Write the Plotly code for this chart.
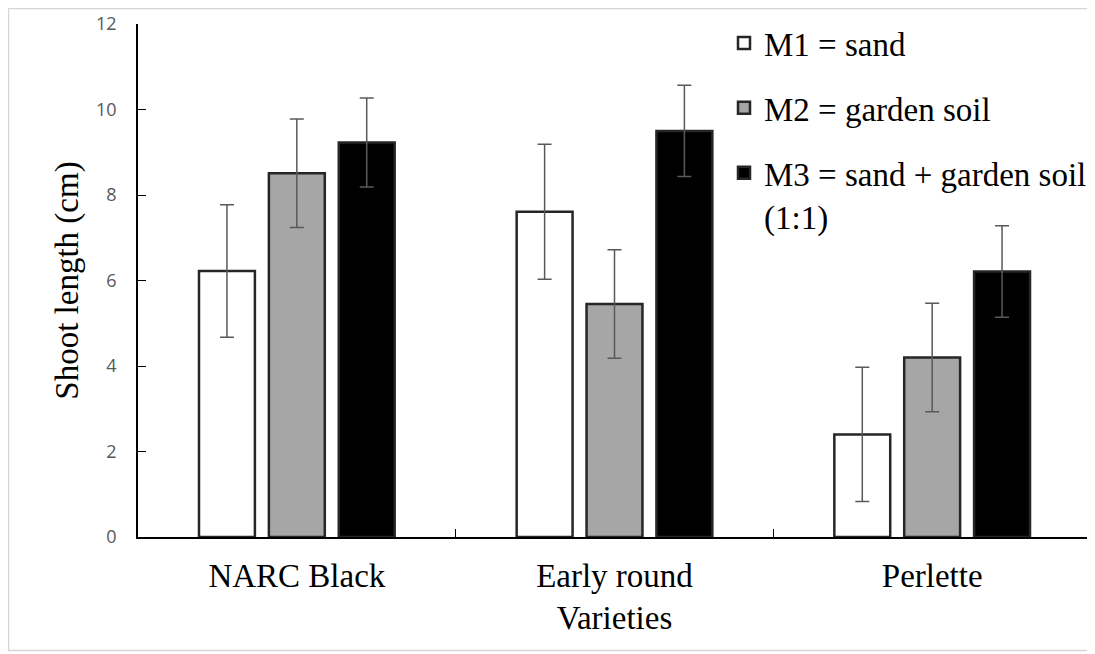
import plotly.graph_objects as go

varieties = ["NARC Black", "Early round", "Perlette"]
series_names = ["M1 = sand", "M2 = garden soil", "M3 = sand + garden soil<br>(1:1)"]
m1 = [6.22, 7.61, 2.40]
m2 = [8.51, 5.45, 4.20]
m3 = [9.23, 9.50, 6.21]
m1_err = [1.55, 1.58, 1.57]
m2_err = [1.27, 1.27, 1.27]
m3_err = [1.04, 1.07, 1.07]
y_ticks = [0, 2, 4, 6, 8, 10, 12]

fills = ["#FFFFFF", "#A6A6A6", "#000000"]
W, H = 1095, 654
OFF = 8  # page offset of the figure in the screenshot
# screen-space plot area: x 138..1091, y 24..537
L = 138 - OFF
T = 24 - OFF
R = W - (1091 - OFF)
B = H - (537 - OFF)

fig = go.Figure()
for name, vals, errs, col, g in zip(series_names, [m1, m2, m3], [m1_err, m2_err, m3_err], fills, ["a", "b", "c"]):
    fig.add_trace(go.Bar(
        x=varieties, y=vals, name=name, legendgroup=g,
        marker=dict(color=col, line=dict(color="#262626", width=2.5)),
        error_y=dict(type="data", array=errs, visible=True, color="#595959", thickness=1.5, width=7),
    ))

pw = W - L - R
ph = H - T - B
def px(sx):
    return (sx - OFF - L) / pw
def py(sy):
    return (H - B - (sy - OFF)) / ph

fig.add_shape(type="rect", xref="paper", yref="paper",
              x0=px(8.5), x1=px(1094), y0=py(650.5), y1=py(8.5),
              line=dict(color="#D6D6D6", width=1.5), fillcolor="rgba(0,0,0,0)", layer="below")

fig.update_layout(
    width=W, height=H,
    margin=dict(l=L, r=R, t=T, b=B, autoexpand=False),
    paper_bgcolor="white", plot_bgcolor="white",
    barmode="group", bargap=0.34, bargroupgap=0.2,
    font=dict(family="Liberation Serif", size=33, color="#000000"),
    legend=dict(x=px(724), y=py(15), xanchor="left", yanchor="top",
                font=dict(family="Liberation Serif", size=33, color="#000000"),
                tracegroupgap=19, traceorder="grouped", bgcolor="rgba(0,0,0,0)",
                itemwidth=30, valign="top"),
    xaxis=dict(
        showline=True, linecolor="#000000", linewidth=1.5,
        ticks="inside", tickson="boundaries", ticklen=8, tickcolor="#000000",
        tickfont=dict(family="Liberation Serif", size=33, color="#000000"),
        ticklabelstandoff=9, automargin=False,
        title=dict(text="Varieties", font=dict(family="Liberation Serif", size=33), standoff=13),
        showgrid=False, range=[-0.5, 2.5],
    ),
    yaxis=dict(
        range=[0, 12], tickvals=y_ticks,
        showline=True, linecolor="#000000", linewidth=1.5,
        ticks="inside", ticklen=8, tickcolor="#000000",
        tickfont=dict(family="Open Sans", size=18, color="#595959"),
        ticklabelstandoff=16, automargin=False,
        title=dict(text="Shoot length (cm)", font=dict(family="Liberation Serif", size=33), standoff=8),
        showgrid=False, zeroline=False,
    ),
)

fig.write_html("out.html")
